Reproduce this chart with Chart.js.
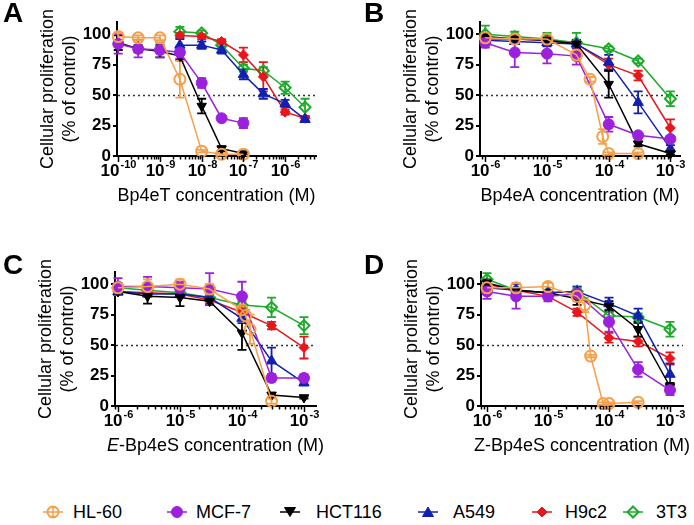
<!DOCTYPE html>
<html><head><meta charset="utf-8">
<script src="https://cdn.jsdelivr.net/npm/chart.js@4/dist/chart.umd.min.js"></script>
<style>
html,body{margin:0;padding:0;background:#fff;}
#wrap{position:relative;width:694px;height:525px;overflow:hidden;font-family:"Liberation Sans",Arial,sans-serif;color:#000;}
canvas{position:absolute;}
.letter{position:absolute;font-weight:bold;font-size:28px;line-height:1;}
.li{position:absolute;font-size:18px;line-height:1;white-space:nowrap;}
.ic{position:absolute;}
</style></head>
<body>
<div id="wrap">
<canvas id="cA" width="347" height="210" style="left:0;top:0"></canvas>
<canvas id="cB" width="347" height="210" style="left:347px;top:0"></canvas>
<canvas id="cC" width="347" height="250" style="left:0;top:210px"></canvas>
<canvas id="cD" width="347" height="250" style="left:347px;top:210px"></canvas>
<div class="letter" style="left:3px;top:-1px">A</div>
<div class="letter" style="left:364px;top:-1px">B</div>
<div class="letter" style="left:3px;top:251px">C</div>
<div class="letter" style="left:364px;top:251px">D</div>
<div id="legend"></div>
</div>
<script>
// ---------- DATA ----------
const cellLines = ['HL-60','MCF-7','HCT116','A549','H9c2','3T3'];
const yTicks = [0,25,50,75,100];
const refLine = 50;

// Panel A: Bp4eT
const concA1 = [1e-10,3e-10,1e-9,3e-9,1e-8,3e-8,1e-7];
const concA2 = [3e-9,1e-8,3e-8,1e-7,3e-7,1e-6,3e-6];
const A_HL60 = [98,97,97,63,4,1.5,1.5];      const A_HL60_err = [3,2,2,15,1,1,1];
const A_MCF7 = [92,88,87,85,60,31,27];       const A_MCF7_err = [8,7,6,5,4,2,4];
const A_HCT116 = [93,88,86,82,41,6,2];       const A_HCT116_err = [6,3,5,3,6,2,1];
const A_A549 = [91,91,87,67,51,43,30];       const A_A549_err = [5,3,3,4,4,3,2];
const A_H9c2 = [99,98,94,83,65,36,31];       const A_H9c2_err = [2,2,2,6,12,2,2];
const A_3T3 = [102,101,91,72,70,56,40];      const A_3T3_err = [4,2,2,3,3,5,7];

// Panel B: Bp4eA
const concB = [1e-6,3e-6,1e-5,3e-5,1e-4,3e-4,1e-3];
const concB_HL60 = [1e-6,3e-6,1e-5,3e-5,5e-5,8e-5,1e-4,3e-4];
const B_HL60 = [97,96,96,83,63,16,2,2];      const B_HL60_err = [2,3,3,4,2,6,1,1];
const B_MCF7 = [93,85,84,82,26,17,14];       const B_MCF7_err = [4,12,8,7,6,2,2];
const B_HCT116 = [98,96,95,92,59,10,2];      const B_HCT116_err = [3,2,3,3,11,2,1];
const B_A549 = [95,94,93,92,77,44,6];        const B_A549_err = [3,2,3,3,6,9,3];
const B_H9c2 = [96,96,95,92,75,66,23];       const B_H9c2_err = [2,2,2,3,5,4,7];
const B_3T3 = [100,98,96,93,88,78,47];       const B_3T3_err = [7,4,5,8,2,2,6];

// Panel C: E-Bp4eS
const concC = [1e-6,3e-6,1e-5,3e-5,1e-4,3e-4,1e-3];
const concC_HL60 = [1e-6,3e-6,1e-5,3e-5,1e-4,1.15e-4,1.35e-4,3e-4];
const C_HL60 = [97,98,100,96,79,74,63,4];    const C_HL60_err = [3,6,4,4,3,5,12,2];
const C_MCF7 = [98,98,97,96,90,23,23];       const C_MCF7_err = [7,8,5,13,12,3,3];
const C_HCT116 = [94,90,89,86,60,9,7];       const C_HCT116_err = [3,6,7,3,14,2,1];
const C_A549 = [94,92,92,89,72,37,19];       const C_A549_err = [3,2,2,3,4,11,2];
const C_H9c2 = [94,93,92,87,77,66,48];       const C_H9c2_err = [2,2,2,3,3,3,9];
const C_3T3 = [97,95,93,89,83,81,66];        const C_3T3_err = [4,3,3,3,3,8,7];

// Panel D: Z-Bp4eS
const concD = [1e-6,3e-6,1e-5,3e-5,1e-4,3e-4,1e-3];
const concD_HL60 = [1e-6,3e-6,1e-5,3e-5,4e-5,5e-5,8e-5,1e-4,3e-4];
const D_HL60 = [97,97,98,90,83,41,2,2,3];    const D_HL60_err = [3,4,3,4,6,1,1,1,1];
const D_MCF7 = [94,90,90,92,69,30,13];       const D_MCF7_err = [6,10,4,4,8,6,4];
const D_HCT116 = [101,95,93,88,82,63,16];    const D_HCT116_err = [3,2,2,5,4,6,3];
const D_A549 = [97,95,93,94,84,74,26];       const D_A549_err = [3,2,2,4,5,6,9];
const D_H9c2 = [100,95,90,77,56,53,39];      const D_H9c2_err = [2,2,2,3,4,4,5];
const D_3T3 = [104,95,93,94,74,73,63];       const D_3T3_err = [5,2,2,4,3,3,6];

// ---------- STYLES ----------
const STYLE = [
  {c:'#F5A04B', shape:'circle',   r:5.5, fill:'rgba(0,0,0,0)', bw:2,   rot:0},
  {c:'#9B21DD', shape:'circle',   r:5.5, fill:'#9B21DD',       bw:1,   rot:0},
  {c:'#000000', shape:'triangle', r:5.5, fill:'#000000',       bw:1,   rot:180},
  {c:'#1220B2', shape:'triangle', r:6,   fill:'#1220B2',       bw:1,   rot:0},
  {c:'#E8151B', shape:'rectRot',  r:5,   fill:'#E8151B',       bw:1,   rot:0},
  {c:'#1EAA2B', shape:'rectRot',  r:5.5, fill:'rgba(0,0,0,0)', bw:2,   rot:0}
];
const FONT = '"Liberation Sans", Arial, sans-serif';

const deco = {
  id:'deco',
  beforeDatasetsDraw(chart, args, o){
    const {ctx, chartArea:ca, scales:{x,y}} = chart;
    ctx.save();
    const yy = Math.round(y.getPixelForValue(refLine))+0.5;
    ctx.setLineDash([2,3]); ctx.strokeStyle='#333'; ctx.lineWidth=1.3;
    ctx.beginPath(); ctx.moveTo(ca.left+1, yy); ctx.lineTo(ca.right, yy); ctx.stroke();
    ctx.setLineDash([]);
    const dss = chart.data.datasets;
    for (let i=dss.length-1;i>=0;i--){
      const ds = dss[i]; if(!ds.err) continue;
      ctx.strokeStyle = ds.borderColor; ctx.lineWidth = 1.8;
      ds.data.forEach((p,j)=>{
        const e = ds.err[j]; if(!e) return;
        const px = x.getPixelForValue(p.x);
        const y1 = y.getPixelForValue(p.y+e), y2 = y.getPixelForValue(p.y-e);
        ctx.beginPath();
        ctx.moveTo(px,y1); ctx.lineTo(px,y2);
        ctx.moveTo(px-4.5,y1); ctx.lineTo(px+4.5,y1);
        ctx.moveTo(px-4.5,y2); ctx.lineTo(px+4.5,y2);
        ctx.stroke();
      });
    }
    ctx.restore();
  },
  afterDraw(chart, args, o){
    const {ctx, chartArea:ca, scales:{x,y}} = chart;
    ctx.save();
    ctx.strokeStyle='#000'; ctx.fillStyle='#000'; ctx.lineWidth=1.5;
    const lmin = Math.floor(Math.log10(x.min)), lmax = Math.ceil(Math.log10(x.max));
    for (let d=lmin; d<=lmax; d++){
      for (let m=1;m<=9;m++){
        const v = m*Math.pow(10,d);
        if (v < x.min*0.999 || v > x.max*1.001) continue;
        const px = Math.round(x.getPixelForValue(v))+0.5;
        const len = m===1 ? 6 : 3.5;
        ctx.beginPath(); ctx.moveTo(px, ca.bottom); ctx.lineTo(px, ca.bottom+len); ctx.stroke();
        if (m===1){
          const base = '10', ex = '-' + Math.abs(d);
          ctx.font = 'bold 17px '+FONT; const w1 = ctx.measureText(base).width;
          ctx.font = 'bold 11px '+FONT; const w2 = ctx.measureText(ex).width;
          const tot = w1+1+w2; const sx = px - tot/2;
          const cy = ca.bottom + 15;
          ctx.textBaseline='middle'; ctx.textAlign='left';
          ctx.font = 'bold 17px '+FONT; ctx.fillText(base, sx, cy);
          ctx.font = 'bold 11px '+FONT; ctx.fillText(ex, sx+w1+1, cy-6);
        }
      }
    }
    // x title
    ctx.textBaseline='middle';
    let total = 0;
    o.title.forEach(s=>{ ctx.font=(s.it?'italic ':'')+'18px '+FONT; total += ctx.measureText(s.t).width; });
    let tx = (ca.left+ca.right)/2 - total/2;
    ctx.textAlign='left';
    o.title.forEach(s=>{ ctx.font=(s.it?'italic ':'')+'18px '+FONT; ctx.fillText(s.t, tx, ca.bottom+40); tx += ctx.measureText(s.t).width; });
    // y title
    const cyT = (ca.top+ca.bottom)/2;
    ctx.font = '18px '+FONT; ctx.textAlign='center';
    ctx.save(); ctx.translate(ca.left-69, cyT); ctx.rotate(-Math.PI/2); ctx.fillText('Cellular proliferation',0,0); ctx.restore();
    ctx.save(); ctx.translate(ca.left-47, cyT); ctx.rotate(-Math.PI/2); ctx.fillText('(% of control)',0,0); ctx.restore();
    ctx.restore();
  }
};

function makeChart(id, xs, ys, errs, xmin, xmax, L, R, top, H, title){
  const datasets = ys.map((vals,i)=>{
    const st = STYLE[i];
    return {
      label: cellLines[i],
      data: vals.map((v,j)=>({x:xs[i][j], y:v})),
      err: errs[i],
      borderColor: st.c, backgroundColor: st.c,
      borderWidth: 1.5,
      pointStyle: st.shape, pointRadius: st.r, pointRotation: st.rot,
      pointBackgroundColor: st.fill, pointBorderColor: st.c, pointBorderWidth: st.bw,
      pointHoverRadius: st.r,
      tension: 0, clip: false
    };
  });
  return new Chart(document.getElementById(id), {
    type:'line',
    data:{datasets},
    options:{
      responsive:false, animation:false, devicePixelRatio:1,
      events:[],
      layout:{padding:{left:0,right:R,top:top,bottom:0}},
      plugins:{legend:{display:false}, tooltip:{enabled:false}, deco:{title:title}},
      scales:{
        x:{type:'logarithmic', min:xmin, max:xmax,
           afterFit:s=>{s.height=H;},
           ticks:{display:false}, grid:{display:false},
           border:{display:true,color:'#000',width:2}},
        y:{type:'linear', min:0, max:110,
           afterFit:s=>{s.width=L;},
           afterBuildTicks:s=>{s.ticks=yTicks.map(v=>({value:v}));},
           ticks:{color:'#000', padding:2, font:{family:FONT, weight:'bold', size:17}},
           grid:{display:true, drawOnChartArea:false, drawTicks:true, tickLength:4, color:'#000', lineWidth:2},
           border:{display:true,color:'#000',width:2}}
      }
    },
    plugins:[deco]
  });
}

makeChart('cA',
  [concA1,concA1,concA1,concA2,concA2,concA2],
  [A_HL60,A_MCF7,A_HCT116,A_A549,A_H9c2,A_3T3],
  [A_HL60_err,A_MCF7_err,A_HCT116_err,A_A549_err,A_H9c2_err,A_3T3_err],
  Math.pow(10,-10.03), Math.pow(10,-5.26), 117, 31, 22, 54,
  [{t:'Bp4eT concentration (M)'}]);
makeChart('cB',
  [concB_HL60,concB,concB,concB,concB,concB],
  [B_HL60,B_MCF7,B_HCT116,B_A549,B_H9c2,B_3T3],
  [B_HL60_err,B_MCF7_err,B_HCT116_err,B_A549_err,B_H9c2_err,B_3T3_err],
  Math.pow(10,-6.086), Math.pow(10,-2.844), 133, 14, 22, 54,
  [{t:'Bp4eA concentration (M)'}]);
makeChart('cC',
  [concC_HL60,concC,concC,concC,concC,concC],
  [C_HL60,C_MCF7,C_HCT116,C_A549,C_H9c2,C_3T3],
  [C_HL60_err,C_MCF7_err,C_HCT116_err,C_A549_err,C_H9c2_err,C_3T3_err],
  Math.pow(10,-6.048), Math.pow(10,-2.806), 115, 31, 62, 54,
  [{t:'E',it:true},{t:'-Bp4eS concentration (M)'}]);
makeChart('cD',
  [concD_HL60,concD,concD,concD,concD,concD],
  [D_HL60,D_MCF7,D_HCT116,D_A549,D_H9c2,D_3T3],
  [D_HL60_err,D_MCF7_err,D_HCT116_err,D_A549_err,D_H9c2_err,D_3T3_err],
  Math.pow(10,-6.098), Math.pow(10,-2.787), 134, 11, 62, 54,
  [{t:'Z-Bp4eS concentration (M)'}]);

// ---------- LEGEND ----------
const legIconX = [53,177,290,428,542,633];
const legTextX = [73,196,316,453,565,656];
const legY = 512;
const leg = document.getElementById('legend');
function iconSVG(st){
  const c = st.c, f = st.fill;
  let shape = '';
  if (st.shape==='circle') shape = `<circle cx="11" cy="8" r="${st.r}" fill="${f}" stroke="${c}" stroke-width="${st.bw}"/>` + (st.fill.startsWith('rgba')?`<line x1="11" y1="3" x2="11" y2="13" stroke="${c}" stroke-width="1.5"/><line x1="8" y1="3.5" x2="14" y2="3.5" stroke="${c}" stroke-width="1.5"/><line x1="8" y1="12.5" x2="14" y2="12.5" stroke="${c}" stroke-width="1.5"/>`:'');
  else if (st.shape==='triangle' && st.rot===180) shape = `<polygon points="5.5,3.5 16.5,3.5 11,12.5" fill="${f}" stroke="${c}"/>`;
  else if (st.shape==='triangle') shape = `<polygon points="5.5,12.5 16.5,12.5 11,3" fill="${f}" stroke="${c}"/>`;
  else shape = `<polygon points="11,${8-st.r} ${11+st.r},8 11,${8+st.r} ${11-st.r},8" fill="${f}" stroke="${c}" stroke-width="${st.bw}"/>`;
  return `<svg width="22" height="16" viewBox="0 0 22 16"><line x1="1" y1="8" x2="21" y2="8" stroke="${c}" stroke-width="1.5"/>${shape}</svg>`;
}
cellLines.forEach((name,i)=>{
  const ic = document.createElement('div'); ic.className='ic';
  ic.style.left=(legIconX[i]-11)+'px'; ic.style.top=(legY-8)+'px';
  ic.innerHTML = iconSVG(STYLE[i]); leg.appendChild(ic);
  const t = document.createElement('div'); t.className='li';
  t.style.left=legTextX[i]+'px'; t.style.top=(legY-9)+'px';
  t.textContent = name; leg.appendChild(t);
});
</script>
</body></html>
